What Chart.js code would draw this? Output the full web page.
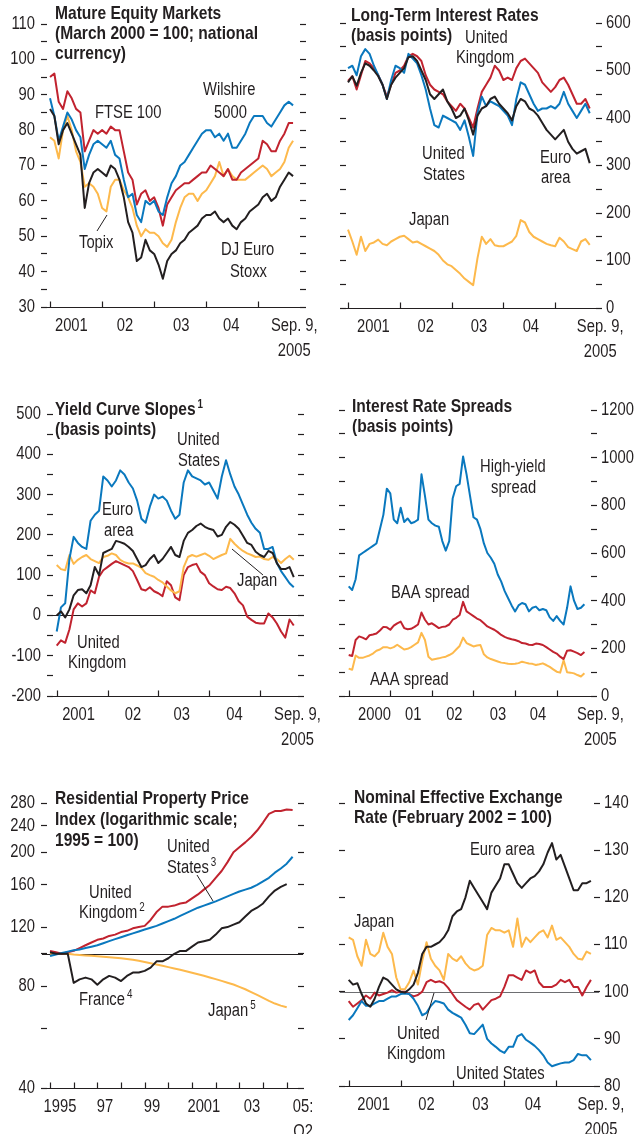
<!DOCTYPE html>
<html><head><meta charset="utf-8">
<script src="https://cdn.jsdelivr.net/npm/chart.js@4.4.1/dist/chart.umd.min.js"></script>
<style>
html,body{margin:0;padding:0;background:#fff;}
body{width:637px;height:1134px;position:relative;overflow:hidden;}
canvas{position:absolute;}
</style></head><body>
<canvas id="c1" width="330" height="360" style="left:0px;top:0px"></canvas>
<canvas id="c2" width="319" height="360" style="left:318px;top:0px"></canvas>
<canvas id="c3" width="330" height="360" style="left:0px;top:390px"></canvas>
<canvas id="c4" width="319" height="360" style="left:318px;top:390px"></canvas>
<canvas id="c5" width="330" height="354" style="left:0px;top:780px"></canvas>
<canvas id="c6" width="319" height="354" style="left:318px;top:780px"></canvas>
<script>
// ---------- Panel 1: Mature equity markets (monthly, Jan 2001 - Sep 2005) ----------
const eqStart = 2001;
const eqFtse = [95,96,88,86,91,89,86,85,74,77,80,79, 80,79,81,80,80,74,68,66,59,62,63,60, 61,58,53,59,61,63,64,65,65,66,67,68, 68,70,69,68,67,69,66,66,68,69,70,71, 72,77,76,74,74,77,79,82,82];
const eqWilshire = [89,84,77,81,85,83,80,78,69,73,76,77, 76,75,77,73,72,66,61,62,56,54,60,59, 60,57,56,61,65,67,70,71,73,75,77,79, 80,80,78,79,77,79,75,75,77,79,82,84, 84,84,82,81,83,85,87,88,87];
const eqTopix = [78,77,72,80,84,80,74,71,64,65,64,62, 58,57,64,66,66,63,61,58,53,50,52,51, 51,50,48,47,49,54,58,61,62,62,60,62, 63,65,67,71,67,69,67,66,66,66,67,68, 69,70,69,67,68,69,71,75,77];
const eqEuroStoxx = [86,84,76,80,82,79,76,73,58,65,68,69, 68,67,70,69,66,61,54,51,43,44,49,46, 45,42,38,43,45,46,48,49,51,52,53,55, 56,56,57,55,54,55,53,52,54,55,57,58, 59,61,62,60,61,64,66,68,67];
const eqYTicks = [30,35,40,45,50,55,60,65,70,75,80,85,90,95,100,105,110];
const eqYLabels = [30,40,50,60,70,80,90,100,110];
const eqXLabelPos = [2001.41,2002.44,2003.52,2004.48,2005.69];
const eqXLabels = ['2001','02','03','04',['Sep. 9,','2005']];

// ---------- Panel 2: Long-term interest rates ----------
const ltrStart = 2001;
const ltrUK = [478,488,460,490,520,515,505,490,470,445,470,495, 500,510,530,535,530,520,490,470,460,455,450,435, 425,415,430,420,400,380,420,455,470,485,510,500, 480,485,480,505,520,525,515,505,495,475,465,455, 465,480,485,470,450,430,430,440,420];
const ltrUS = [505,510,490,530,545,535,510,490,470,440,480,510, 505,495,535,525,515,490,460,420,385,380,405,400, 395,390,375,395,360,320,410,445,425,435,430,425, 415,405,385,440,475,470,450,430,415,420,420,425, 420,430,455,430,415,400,415,430,410];
const ltrEuro = [475,488,468,495,515,510,500,488,470,440,470,485, 495,505,528,530,520,500,480,450,440,450,460,435, 420,400,405,420,395,365,405,420,425,440,445,430, 420,410,395,425,440,435,420,415,405,390,375,365, 355,365,375,350,335,325,330,335,305];
const ltrJapan = [165,140,112,150,120,135,138,144,135,132,140,145, 150,152,145,138,140,135,130,125,120,112,100,92, 88,80,72,62,55,48,105,150,135,145,132,130, 130,135,140,152,185,180,160,150,145,140,135,132, 130,148,140,128,124,120,140,145,133];
const ltrYTicks = [0,50,100,150,200,250,300,350,400,450,500,550,600];
const ltrYLabels = [0,100,200,300,400,500,600];
const ltrXLabelPos = [2001.49,2002.5,2003.53,2004.53,2005.87];
const ltrXLabels = ['2001','02','03','04',['Sep. 9,','2005']];

// ---------- Panel 3: Yield curve slopes ----------
const ycsStart = 2001;
const ycsUS = [-40,20,30,140,195,180,170,165,235,250,260,345, 335,320,335,360,350,330,315,285,240,230,270,300, 290,295,285,260,240,250,330,360,345,340,335,325, 330,310,290,345,385,350,320,300,275,250,230,215, 205,165,165,170,130,110,95,80,70];
const ycsEuro = [0,10,-5,15,50,63,65,55,75,120,100,155, 160,165,185,182,178,170,160,140,120,125,140,150, 130,140,155,170,150,145,185,205,212,222,228,220, 215,212,196,200,220,232,225,215,198,180,175,158, 150,145,160,155,130,115,115,120,95];
const ycsJapan = [125,115,112,150,128,138,145,150,140,135,130,145, 148,154,150,138,132,129,129,124,118,105,100,96, 88,82,72,62,55,60,120,145,150,146,150,154, 148,140,145,150,154,190,178,168,160,154,150,145, 146,140,138,145,140,130,140,148,138];
const ycsUK = [-75,-62,-68,-35,15,30,22,30,62,55,96,112, 120,128,135,130,125,120,110,88,65,62,70,60, 55,48,85,75,45,38,100,120,125,128,108,100, 80,72,65,63,71,68,55,35,25,-3,-11,-18, -20,-20,5,-5,-20,-40,-55,-10,-25];
const ycsYTicks = [-200,-150,-100,-50,0,50,100,150,200,250,300,350,400,450,500];
const ycsYLabels = [-200,-100,0,100,200,300,400,500];
const ycsXLabelPos = [2001.43,2002.5,2003.46,2004.5,2005.74];
const ycsXLabels = ['2001','02','03','04',['Sep. 9,','2005']];

// ---------- Panel 4: Interest rate spreads (Jan 2000 - Sep 2005) ----------
const sprStart = 2000;
const sprHighYield = [460,445,490,590,600,610,620,630,640,700,760,870, 850,740,725,790,730,745,725,730,740,930,840,740, 725,715,710,650,610,650,830,880,890,1005,930,840, 750,740,700,640,600,580,555,510,480,440,410,380, 355,380,390,385,355,370,375,360,365,360,330,315, 335,315,300,370,460,400,365,370,385];
const sprBAA = [172,168,235,250,245,238,255,258,262,275,290,288, 278,295,305,312,285,280,282,290,300,350,320,300, 305,295,285,290,292,300,320,328,340,395,355,345, 335,325,318,305,292,285,278,268,256,248,242,238, 235,230,222,220,215,214,220,218,214,205,195,185, 178,165,155,190,192,186,180,172,185];
const sprAAA = [115,110,170,160,160,165,170,178,190,195,205,205, 200,205,215,205,195,198,205,215,225,265,235,165, 152,155,158,162,165,172,180,195,210,245,222,215, 208,212,214,175,162,155,150,145,140,138,135,134, 135,138,144,140,136,135,130,133,137,130,122,112, 102,98,150,100,98,95,88,82,95];
const sprYTicks = [0,100,200,300,400,500,600,700,800,900,1000,1100,1200];
const sprYLabels = [0,200,400,600,800,1000,1200];
const sprXLabelPos = [2000.62,2001.55,2002.54,2003.59,2004.55,2006.05];
const sprXLabels = ['2000','01','02','03','04',['Sep. 9,','2005']];

// ---------- Panel 5: Residential property prices (quarterly, 1995Q1 - 2005Q2) ----------
const hpStart = 1995;
const hpUK = [102,101,100,101,102,104,106,108,110,111,113,114,116,117,119,120,121,126,133,138,138,139,141,142,146,150,155,160,168,176,187,200,207,214,222,232,245,260,265,265,268,267];
const hpUS = [98.5,99.5,100.5,101.5,102.5,103,104,105,106,107.5,109,110.5,112,113.5,115,116.5,118,119.5,121,123,125,127,129.5,132,134.5,137,139,141,143,145.5,148,150.5,153,155,157,160,164,168,174,179,185,194];
const hpFrance = [101,100,100,100,82,84,85,84,81,84,86,85,83,86,88,88,89,91,95,95,97,100,102,102,105,108,109,110,114,119,120,122,124,129,134,137,141,148,154,158,161,null];
const hpJapan = [100,100,100,100,99.5,99.2,98.9,98.6,98.3,98,97.7,97.4,97,96.5,96,95.3,94.5,93.7,92.9,92.1,91.3,90.5,89.7,88.8,87.9,87,86.1,85.1,84.1,83.1,82.1,81.1,79.8,78.5,77,75.5,74,72.5,71.2,70.2,69.4,null];
const hpYTicks = [40,60,80,100,120,160,200,240,280];
const hpYLabels = [40,80,120,160,200,240,280];
const hpXLabelPos = [1995.42,1997.32,1999.31,2001.5,2003.53,2005.69];
const hpXLabels = ['1995','97','99','2001','03',['05:','Q2']];

// ---------- Panel 6: Nominal effective exchange rates ----------
const neerStart = 2001;
const neerEuro = [102.5,101.5,101.8,99.5,97.5,96.8,98.5,101,103,102.5,101.5,100.5, 100,99.8,100.5,101.5,104,108,109.5,109.5,110,110.5,111.5,113, 116,117,117.5,120,123.5,122,120.5,119,117.5,121,122.5,124, 127,127,125,123,122,123,124,124.5,125.5,127,129.5,131.5, 128,129,126.5,124,121.5,121.5,123,123,123.5];
const neerJapan = [111.5,111,107.5,105.5,111,108,107.5,108.5,112.5,109.5,108,103, 100.5,100.5,102,104.5,101.5,106.5,110.5,107,105.5,104.5,102.5,108, 107,106.5,107.5,106,105,104.5,104.8,105.5,112,113.5,113,113, 112.5,113,109.5,115.5,109.5,111.5,110.5,111.5,112.5,113,111.5,114, 111,111.5,110.5,109.5,108,107,106.8,108.5,108];
const neerUK = [98,96.8,97.5,98.2,99.2,98.5,99.8,99.2,99.5,99.8,100.3,99.8, 100,100,99.5,99,99.3,100,102,102.5,102,102.2,101.8,100.8, 99.5,98.2,97.5,96.8,96.2,97.2,97.5,96.2,97.2,98.2,98.5,99, 101,103.5,103.5,103,102.5,104.5,104,104.5,102,101,101,101, 101.5,102.5,102,102.5,101,101,99.2,101,102.5];
const neerUS = [94,95,96.5,98,97,97,97.5,98,98,98.5,99,99, 99.5,99.6,99.5,98.5,97,95,95.5,97,98,97.8,97.5,96.2, 95.5,95,94.5,93,91.2,91,92,93,90,89,88.3,87.5, 87,88.3,88.3,90.5,91,89.8,89.2,88.5,87.6,86.5,85,84.2, 84.5,84.8,85,85,85.5,86.8,86.5,86.5,85.5];
const neerYTicks = [80,90,100,110,120,130,140];
const neerYLabels = [80,90,100,110,120,130,140];
const neerXLabelPos = [2001.48,2002.5,2003.54,2004.55,2005.86];
const neerXLabels = ['2001','02','03','04',['Sep. 9,','2005']];

// ---------- styling ----------
const INK = '#231f20';
const BLUE = '#0a78be', RED = '#c1232f', GOLD = '#fdb94c', BLACK = '#231f20';
const FONT = "'Liberation Sans', Arial, sans-serif";
const SQUEEZE = 0.82; // condensed type, like Arial Narrow
Chart.defaults.font.family = FONT;
Chart.defaults.font.size = 18;
Chart.defaults.color = INK;

function condense(ctx) {
  if (ctx.__condensed) return;
  const orig = ctx.fillText.bind(ctx);
  ctx.fillText = function (t, x, y) {
    this.save(); this.translate(x, y); this.scale(SQUEEZE, 1); orig(t, 0, 0); this.restore();
  };
  ctx.__condensed = true;
}

function series(start, step, vals) { return vals.map((v, i) => ({x: start + i * step, y: v})); }

const DECOR = {};
const decorPlugin = {
  id: 'decor',
  beforeDatasetsDraw(chart) {
    const d = DECOR[chart.canvas.id];
    if (!d || d.ref == null) return;
    const {ctx, chartArea: a} = chart;
    const y = Math.round(chart.scales.y.getPixelForValue(d.ref)) + 0.5;
    ctx.save(); ctx.strokeStyle = d.refColor; ctx.lineWidth = 1;
    ctx.beginPath(); ctx.moveTo(a.left - 5, y); ctx.lineTo(a.right + 5, y); ctx.stroke(); ctx.restore();
  },
  afterDraw(chart) {
    const d = DECOR[chart.canvas.id];
    const {ctx, chartArea: a} = chart;
    ctx.save();
    ctx.strokeStyle = INK; ctx.lineWidth = 1.2;
    const yb = Math.round(a.bottom) + 0.5;
    ctx.beginPath(); ctx.moveTo(a.left - 6, yb); ctx.lineTo(a.right + 6, yb);
    d.years.forEach(v => { const x = Math.round(chart.scales.x.getPixelForValue(v)) + 0.5; ctx.moveTo(x, yb); ctx.lineTo(x, yb - 6); });
    ctx.stroke();
    ctx.lineWidth = 1;
    (d.leaders || []).forEach(l => { ctx.beginPath(); ctx.moveTo(l[0], l[1]); ctx.lineTo(l[2], l[3]); ctx.stroke(); });
    ctx.fillStyle = INK; ctx.textBaseline = 'alphabetic'; ctx.textAlign = 'left';
    d.texts.forEach(t => {
      ctx.font = (t.b ? 'bold ' : '') + (t.s || 18) + 'px ' + FONT;
      ctx.fillText(t.t, t.x, t.y);
      if (t.sup) {
        const w = ctx.measureText(t.t).width * SQUEEZE;
        ctx.font = (t.b ? 'bold ' : '') + '12px ' + FONT;
        ctx.fillText(t.sup, t.x + w + 2, t.y - 7);
      }
    });
    ctx.restore();
  }
};

function panel(id, p) {
  const canvas = document.getElementById(id);
  condense(canvas.getContext('2d'));
  DECOR[id] = p.decor;
  const yAxis = (pos, show) => ({
    type: p.log ? 'logarithmic' : 'linear', position: pos, min: p.ymin, max: p.ymax,
    grid: {display: true, drawOnChartArea: false, drawTicks: true, tickLength: 6, tickColor: INK, tickWidth: 1.2},
    border: {display: false},
    ticks: {display: show, autoSkip: false, padding: pos === 'left' ? 6 : 4, color: INK, font: {size: 18},
      callback: v => p.yLabels.includes(v) ? String(v) : ''},
    afterBuildTicks: s => { s.ticks = p.yTicks.map(v => ({value: v})); },
    afterFit: s => { s.width = pos === 'left' ? p.area.left : (canvas.width - p.area.right); s.paddingTop = 0; s.paddingBottom = 0; }
  });
  const scales = {
    x: {type: 'linear', position: 'bottom', min: p.xmin, max: p.xmax,
      grid: {display: false, drawTicks: false}, border: {display: false},
      ticks: {autoSkip: false, maxRotation: 0, minRotation: 0, padding: 6, color: INK, font: {size: 18, lineHeight: 1.4},
        callback: (v, i) => p.xLabels[i]},
      afterBuildTicks: s => { s.ticks = p.xLabelPos.map(v => ({value: v})); },
      afterFit: s => { s.height = canvas.height - p.area.bottom; s.paddingLeft = 0; s.paddingRight = 0; }
    },
    y: yAxis(p.side, true),
    y2: yAxis(p.side === 'left' ? 'right' : 'left', false)
  };
  new Chart(canvas, {
    type: 'line',
    data: {datasets: p.sets.map(s => ({data: series(p.start, p.step, s.v), borderColor: s.c, borderWidth: 2,
      pointRadius: 0, tension: 0, fill: false, borderJoinStyle: 'round', spanGaps: false}))},
    options: {
      responsive: false, animation: false, events: [], devicePixelRatio: 1,
      layout: {padding: {top: p.area.top, left: 0, right: 0, bottom: 0}},
      plugins: {legend: {display: false}, tooltip: {enabled: false}},
      scales
    },
    plugins: [decorPlugin]
  });
}

panel('c1', {
  start: eqStart, step: 1/12, side: 'left', ymin: 30, ymax: 110, yTicks: eqYTicks, yLabels: eqYLabels,
  xmin: 2000.942, xmax: 2005.80, xLabelPos: eqXLabelPos, xLabels: eqXLabels,
  area: {left: 47, right: 300, top: 24, bottom: 307},
  sets: [{v: eqEuroStoxx, c: BLACK}, {v: eqWilshire, c: BLUE}, {v: eqFtse, c: RED}, {v: eqTopix, c: GOLD}],
  decor: {years: [2001, 2002, 2003, 2004, 2005], leaders: [[97, 231, 107, 215]], texts: [
    {t: 'Mature Equity Markets', x: 55, y: 18.5, b: 1, s: 19},
    {t: '(March 2000 = 100; national', x: 55, y: 38.5, b: 1, s: 19},
    {t: 'currency)', x: 55, y: 58.5, b: 1, s: 19},
    {t: 'FTSE 100', x: 95, y: 118}, {t: 'Wilshire', x: 203, y: 95}, {t: '5000', x: 214, y: 118},
    {t: 'Topix', x: 79, y: 248}, {t: 'DJ Euro', x: 221, y: 255}, {t: 'Stoxx', x: 230, y: 277}]}
});

panel('c2', {
  start: ltrStart, step: 1/12, side: 'right', ymin: 0, ymax: 600, yTicks: ltrYTicks, yLabels: ltrYLabels,
  xmin: 2000.961, xmax: 2005.788, xLabelPos: ltrXLabelPos, xLabels: ltrXLabels,
  area: {left: 28, right: 278, top: 23, bottom: 308},
  sets: [{v: ltrEuro, c: BLACK}, {v: ltrUS, c: BLUE}, {v: ltrUK, c: RED}, {v: ltrJapan, c: GOLD}],
  decor: {years: [2001, 2002, 2003, 2004, 2005], texts: [
    {t: 'Long-Term Interest Rates', x: 33, y: 21, b: 1, s: 19},
    {t: '(basis points)', x: 33, y: 41, b: 1, s: 19},
    {t: 'United', x: 147, y: 43}, {t: 'Kingdom', x: 138, y: 63},
    {t: 'United', x: 104, y: 159}, {t: 'States', x: 105, y: 180},
    {t: 'Euro', x: 222, y: 163}, {t: 'area', x: 223, y: 183},
    {t: 'Japan', x: 91, y: 225}]}
});

panel('c3', {
  start: ycsStart, step: 1/12, side: 'left', ymin: -200, ymax: 500, yTicks: ycsYTicks, yLabels: ycsYLabels,
  xmin: 2000.927, xmax: 2005.75, xLabelPos: ycsXLabelPos, xLabels: ycsXLabels,
  area: {left: 53, right: 298, top: 24, bottom: 306},
  sets: [{v: ycsEuro, c: BLACK}, {v: ycsUS, c: BLUE}, {v: ycsJapan, c: GOLD}, {v: ycsUK, c: RED}],
  decor: {years: [2001, 2002, 2003, 2004, 2005], ref: 0, refColor: INK, leaders: [[232, 159, 263, 185]], texts: [
    {t: 'Yield Curve Slopes', x: 55, y: 25, b: 1, s: 19, sup: '1'},
    {t: '(basis points)', x: 55, y: 45, b: 1, s: 19},
    {t: 'United', x: 177, y: 55}, {t: 'States', x: 178, y: 76},
    {t: 'Euro', x: 102, y: 125}, {t: 'area', x: 104, y: 146},
    {t: 'Japan', x: 237, y: 196},
    {t: 'United', x: 77, y: 258}, {t: 'Kingdom', x: 68, y: 278}]}
});

panel('c4', {
  start: sprStart, step: 1/12, side: 'right', ymin: 0, ymax: 1200, yTicks: sprYTicks, yLabels: sprYLabels,
  xmin: 1999.911, xmax: 2005.825, xLabelPos: sprXLabelPos, xLabels: sprXLabels,
  area: {left: 27, right: 273, top: 20, bottom: 306},
  sets: [{v: sprHighYield, c: BLUE}, {v: sprBAA, c: RED}, {v: sprAAA, c: GOLD}],
  decor: {years: [2000, 2001, 2002, 2003, 2004, 2005], texts: [
    {t: 'Interest Rate Spreads', x: 34, y: 21.5, b: 1, s: 19},
    {t: '(basis points)', x: 34, y: 41.5, b: 1, s: 19},
    {t: 'High-yield', x: 162, y: 82}, {t: 'spread', x: 173, y: 103},
    {t: 'BAA spread', x: 73, y: 208}, {t: 'AAA spread', x: 52, y: 295}]}
});

panel('c5', {
  start: hpStart, step: 1/4, side: 'left', log: true, ymin: 40, ymax: 280, yTicks: hpYTicks, yLabels: hpYLabels,
  xmin: 1994.873, xmax: 2005.477, xLabelPos: hpXLabelPos, xLabels: hpXLabels,
  area: {left: 47, right: 298, top: 23, bottom: 308},
  sets: [{v: hpFrance, c: BLACK}, {v: hpUS, c: BLUE}, {v: hpUK, c: RED}, {v: hpJapan, c: GOLD}],
  decor: {years: [1995,1996,1997,1998,1999,2000,2001,2002,2003,2004,2005], ref: 100, refColor: INK,
    leaders: [[197, 95, 213, 121]], texts: [
    {t: 'Residential Property Price', x: 55, y: 24, b: 1, s: 19},
    {t: 'Index (logarithmic scale;', x: 55, y: 45, b: 1, s: 19},
    {t: '1995 = 100)', x: 55, y: 66, b: 1, s: 19},
    {t: 'United', x: 167, y: 72}, {t: 'States', x: 167, y: 93, sup: '3'},
    {t: 'United', x: 89, y: 118}, {t: 'Kingdom', x: 79, y: 138, sup: '2'},
    {t: 'France', x: 79, y: 225, sup: '4'}, {t: 'Japan', x: 208, y: 236, sup: '5'}]}
});

panel('c6', {
  start: neerStart, step: 1/12, side: 'right', ymin: 80, ymax: 140, yTicks: neerYTicks, yLabels: neerYLabels,
  xmin: 2000.929, xmax: 2005.726, xLabelPos: neerXLabelPos, xLabels: neerXLabels,
  area: {left: 27, right: 276, top: 23, bottom: 306},
  sets: [{v: neerEuro, c: BLACK}, {v: neerUS, c: BLUE}, {v: neerUK, c: RED}, {v: neerJapan, c: GOLD}],
  decor: {years: [2001, 2002, 2003, 2004, 2005], ref: 100, refColor: '#6d6e71', leaders: [[108, 240, 116, 213]], texts: [
    {t: 'Nominal Effective Exchange', x: 36, y: 22.5, b: 1, s: 19},
    {t: 'Rate (February 2002 = 100)', x: 36, y: 43, b: 1, s: 19},
    {t: 'Euro area', x: 152, y: 75}, {t: 'Japan', x: 36, y: 147},
    {t: 'United', x: 79, y: 259}, {t: 'Kingdom', x: 69, y: 279},
    {t: 'United States', x: 138, y: 299}]}
});
</script>
</body></html>
